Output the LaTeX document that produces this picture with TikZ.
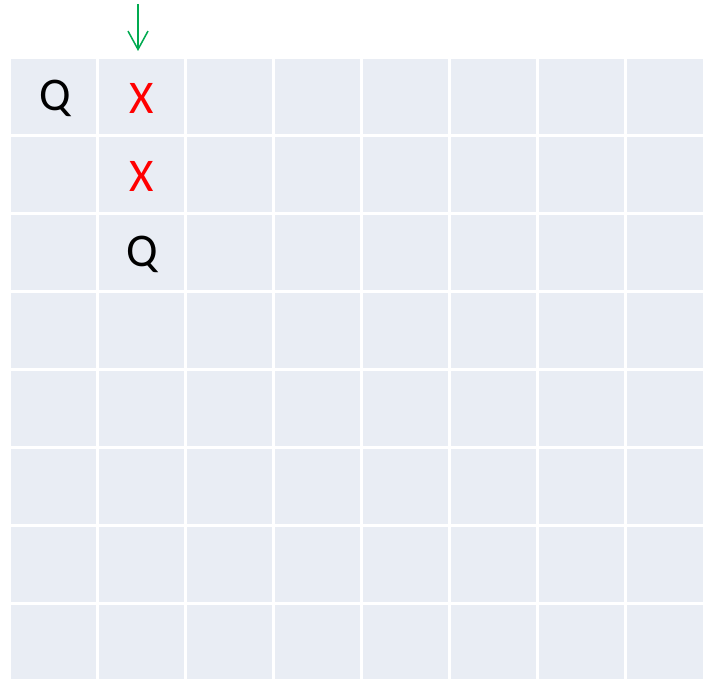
\documentclass[tikz,border=0pt]{standalone}
\usepackage{fontspec}
\setmainfont{Carlito}
\usetikzlibrary{arrows.meta}
\definecolor{cellfill}{RGB}{233,237,244}
\definecolor{markgreen}{RGB}{0,170,80}

\begin{document}
\begin{tikzpicture}[x=0.03cm, y=-0.03cm,
        cellmark/.style={font=\fontsize{40}{40}\selectfont, inner sep=0pt},
        >={Straight Barb[length=0.55cm, width=0.6cm]}]
        \useasboundingbox (0,0) rectangle (703,679);
        \fill[cellfill] (11,59) rectangle (703,679);

        % Gitterlinien
        \foreach \i in {1,...,7} {
            \draw[white, line width=0.08cm] (11+88*\i-1.5,59) -- (11+88*\i-1.5,679);
            \draw[white, line width=0.08cm] (11,59+78*\i-1.5) -- (703,59+78*\i-1.5);
        }

        \node[cellmark] (q1) at (55,98) {Q};
        \node[cellmark, red] (x1) at (142,98) {X};
        \node[cellmark, red] (x2) at (142,176) {X};
        \node[cellmark] (q2) at (142,254) {Q};

        \coordinate (top) at (138,4);
        \coordinate (tip) at (138,51);
        \draw[->, markgreen, line width=1.3pt] (top) -- (tip);
\end{tikzpicture}
\end{document}
